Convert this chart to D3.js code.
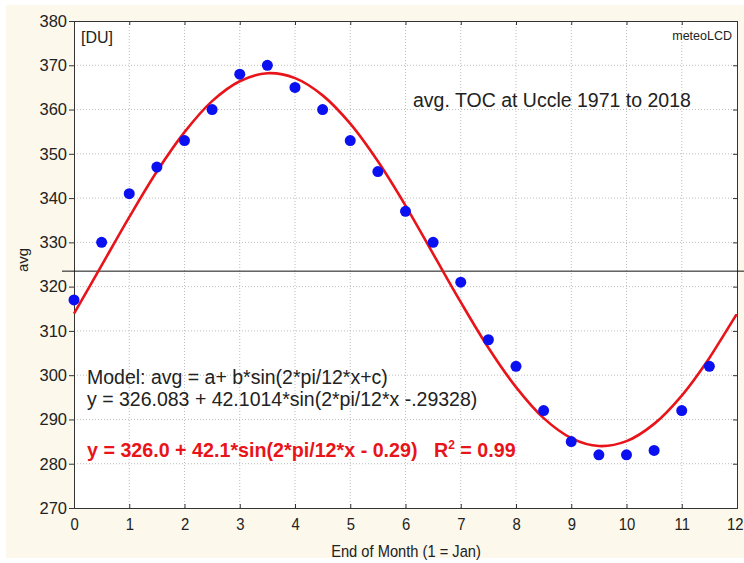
<!DOCTYPE html>
<html>
<head>
  <meta charset="UTF-8">
  <title>avg. TOC at Uccle</title>
  <script src="https://d3js.org/d3.v7.min.js"></script>
  <style>
    body { margin: 0; background: #fff; }
    text { font-family: "Liberation Sans", Arial, sans-serif; fill: #222; white-space: pre; }
  </style>
</head>
<body>
  <svg id="chart" width="744" height="563"></svg>
  <script>
    // data: monthly averages (DU)
    const months = [0, 0.5, 1, 1.5, 2, 2.5, 3, 3.5, 4, 4.5, 5, 5.5, 6, 6.5, 7, 7.5, 8, 8.5, 9, 9.5, 10, 10.5, 11, 11.5];
    const avgValues = [317, 330, 341, 347, 353, 360, 368, 370, 365, 360, 353, 346, 337, 330, 321, 308, 302, 292, 285, 282, 282, 283, 292, 302];

    // fitted red curve, every half month
    const fitX = [0, 0.5, 1, 1.5, 2, 2.5, 3, 3.5, 4, 4.5, 5, 5.5, 6, 6.5, 7, 7.5, 8, 8.5, 9, 9.5, 10, 10.5, 11, 11.5, 12];
    const fitY = [313.9, 324.8, 335.7, 346.0, 354.9, 361.9, 366.4, 368.2, 367.1, 363.2, 356.8, 348.3, 338.3, 327.4, 316.5, 306.2, 297.3, 290.3, 285.8, 284.0, 285.1, 289.0, 295.4, 303.9, 313.9];

    const xTicks = [0, 1, 2, 3, 4, 5, 6, 7, 8, 9, 10, 11, 12];
    const yTicks = [270, 280, 290, 300, 310, 320, 330, 340, 350, 360, 370, 380];
    const refLine = 323.5;

    const svg = d3.select("#chart");
    const plot = { left: 74, right: 737, top: 21, bottom: 508 };

    // cream panel + white plot area
    svg.append("rect").attr("x", 6).attr("y", 5).attr("width", 738).attr("height", 553).attr("fill", "#fcf8ec");
    svg.append("rect")
      .attr("x", plot.left).attr("y", plot.top)
      .attr("width", plot.right - plot.left).attr("height", plot.bottom - plot.top)
      .attr("fill", "#fff");

    const x = d3.scaleLinear().domain([0, 12]).range([plot.left, plot.right]);
    const y = d3.scaleLinear().domain([270, 380]).range([plot.bottom, plot.top]);

    // dotted gridlines
    svg.append("g").selectAll("line").data(xTicks.slice(1, -1)).join("line")
      .attr("x1", d => x(d)).attr("x2", d => x(d))
      .attr("y1", plot.top).attr("y2", plot.bottom)
      .attr("stroke", "#bdbdbd").attr("stroke-dasharray", "1,2");
    svg.append("g").selectAll("line").data(yTicks.slice(1, -1)).join("line")
      .attr("x1", plot.left).attr("x2", plot.right)
      .attr("y1", d => y(d)).attr("y2", d => y(d))
      .attr("stroke", "#bdbdbd").attr("stroke-dasharray", "1,2");

    // axes
    const leftAxis = d3.axisLeft(y).tickValues(yTicks).tickSize(5).tickPadding(2);
    const bottomAxis = d3.axisBottom(x).tickValues(xTicks).tickSize(-4).tickPadding(10);
    const gl = svg.append("g").attr("transform", `translate(${plot.left},0)`).call(leftAxis);
    const gb = svg.append("g").attr("transform", `translate(0,${plot.bottom})`).call(bottomAxis);
    svg.append("g").attr("transform", `translate(0,${plot.top})`)
      .call(d3.axisTop(x).tickValues(xTicks).tickSize(-4).tickFormat(""));
    svg.append("g").attr("transform", `translate(${plot.right},0)`)
      .call(d3.axisRight(y).tickValues(yTicks).tickSize(-4).tickFormat(""));
    svg.selectAll(".domain").attr("stroke", "#333");
    svg.selectAll(".tick line").attr("stroke", "#333");
    gl.selectAll("text").attr("font-size", 16.5).style("fill", "#222");
    gb.selectAll("text").attr("font-size", 16.5).style("fill", "#222")
      .attr("transform", "scale(0.9,1)")
      .attr("x", d => d === 12 ? -2.5 : 0); // keep last label inside the page

    // horizontal reference line
    svg.append("line")
      .attr("x1", 62).attr("x2", 744)
      .attr("y1", y(refLine)).attr("y2", y(refLine))
      .attr("stroke", "#111").attr("stroke-width", 1);

    // fitted curve
    const fitPts = fitX.map((d, i) => [d, fitY[i]]);
    svg.append("path")
      .datum(fitPts)
      .attr("fill", "none")
      .attr("stroke", "#e8141a")
      .attr("stroke-width", 2.6)
      .attr("d", d3.line().x(d => x(d[0])).y(d => y(d[1])).curve(d3.curveCatmullRom));

    // data points
    svg.append("g").selectAll("circle").data(months).join("circle")
      .attr("cx", d => x(d))
      .attr("cy", (d, i) => y(avgValues[i]))
      .attr("r", 5.5)
      .attr("fill", "#0a10f0");

    // texts
    svg.append("text").attr("x", 81).attr("y", 43).attr("font-size", 16).text("[DU]");
    svg.append("text").attr("x", 732).attr("y", 39.5).attr("font-size", 12.5).attr("text-anchor", "end").text("meteoLCD");
    svg.append("text").attr("x", 413).attr("y", 107).attr("font-size", 19.5).text("avg. TOC at Uccle 1971 to 2018");
    svg.append("text").attr("x", 87).attr("y", 384).attr("font-size", 19.5).text("Model: avg = a+ b*sin(2*pi/12*x+c)");
    svg.append("text").attr("x", 87).attr("y", 406).attr("font-size", 19.5).text("y = 326.083 + 42.1014*sin(2*pi/12*x -.29328)");
    const red = svg.append("text").attr("x", 87).attr("y", 457).attr("font-size", 19.7)
      .attr("font-weight", "bold").style("fill", "#e8141a");
    red.append("tspan").text("y = 326.0 + 42.1*sin(2*pi/12*x - 0.29)   R");
    red.append("tspan").attr("dy", -8).attr("font-size", 12).text("2");
    red.append("tspan").attr("dy", 8).text(" = 0.99");

    svg.append("text").attr("transform", "translate(406,557) scale(0.89,1)").attr("font-size", 16.5)
      .attr("text-anchor", "middle").text("End of Month (1 = Jan)");
    svg.append("text").attr("transform", "translate(28,260) rotate(-90)").attr("font-size", 15)
      .attr("text-anchor", "middle").text("avg");
  </script>
</body>
</html>
